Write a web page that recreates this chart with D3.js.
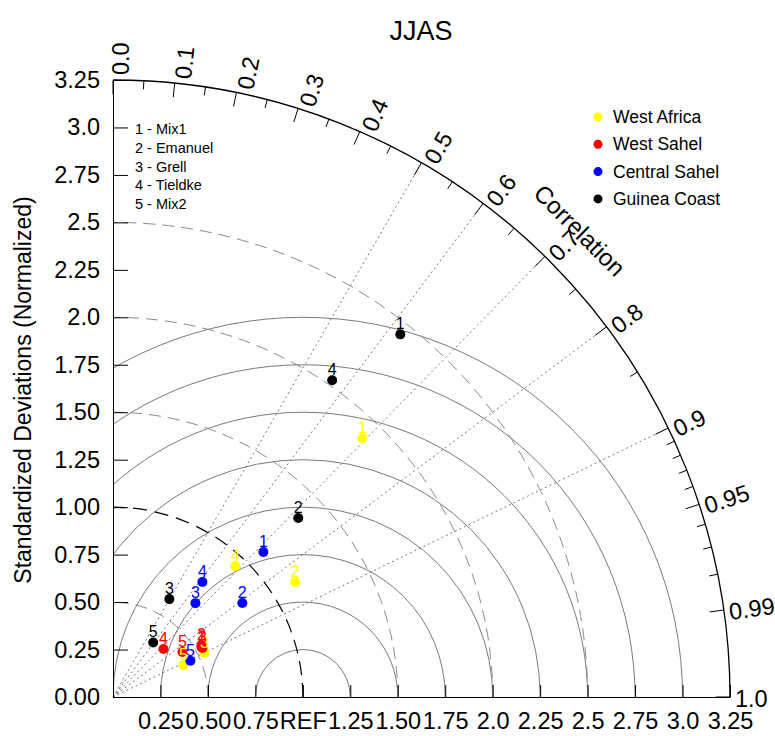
<!DOCTYPE html>
<html>
<head>
<meta charset="utf-8">
<script src="https://cdn.jsdelivr.net/npm/d3@7"></script>
<style>
body { margin: 0; background: #fff; }
text { font-family: "Liberation Sans", Arial, Helvetica, sans-serif; fill: #000; }
</style>
</head>
<body>
<div id="chart-container"></div>
<script>
// cases (regions) and models
const regions = ["West Africa", "West Sahel", "Central Sahel", "Guinea Coast"];
const regionColors = ["#ffff00", "#ff0000", "#0000ff", "#000000"];
const models = ["Mix1", "Emanuel", "Grell", "Tieldke", "Mix2"];

// normalized standard deviation and correlation, models 1..5
const westAfricaStd = [1.893, 1.135, 0.535, 0.944, 0.407];
const westAfricaCor = [0.694, 0.846, 0.901, 0.683, 0.911];
const westSahelStd = [0.535, 0.540, 0.537, 0.367, 0.436];
const westSahelCor = [0.871, 0.862, 0.877, 0.725, 0.839];
const centralSahelStd = [1.100, 0.842, 0.658, 0.767, 0.450];
const centralSahelCor = [0.720, 0.809, 0.660, 0.614, 0.906];
const guineaCoastStd = [2.437, 1.357, 0.595, 2.029, 0.357];
const guineaCoastCor = [0.621, 0.719, 0.499, 0.569, 0.593];

// axis ticks
const stdTicks = [0, 0.25, 0.5, 0.75, 1.0, 1.25, 1.5, 1.75, 2.0, 2.25, 2.5, 2.75, 3.0, 3.25];
const yTickLabels = ["0.00", "0.25", "0.50", "0.75", "1.00", "1.25", "1.50", "1.75", "2.0", "2.25", "2.5", "2.75", "3.0", "3.25"];
const xTickLabels = ["", "0.25", "0.50", "0.75", "REF", "1.25", "1.50", "1.75", "2.0", "2.25", "2.5", "2.75", "3.0", "3.25"];
const corrMajor = [0, 0.1, 0.2, 0.3, 0.4, 0.5, 0.6, 0.7, 0.8, 0.9, 0.95, 0.99, 1.0];
const corrLabels = ["0.0", "0.1", "0.2", "0.3", "0.4", "0.5", "0.6", "0.7", "0.8", "0.9", "0.95", "0.99", "1.0"];
const corrMinor = [0.05, 0.15, 0.25, 0.35, 0.45, 0.55, 0.65, 0.75, 0.85, 0.91, 0.92, 0.93, 0.94, 0.96, 0.97, 0.98];
const corrRays = [0.5, 0.6, 0.7, 0.8, 0.9];
const rmsCircles = [0.25, 0.5, 0.75, 1.0, 1.25, 1.5, 1.75, 2.0];
const stdCircles = [0.5, 1.5, 2.0, 2.5];

const width = 775, height = 736;
const origin = {x: 113, y: 697};
const R = 617;
const maxStd = 3.25;

const r = d3.scaleLinear().domain([0, maxStd]).range([0, R]);
const yScale = d3.scaleLinear().domain([0, maxStd]).range([0, -R]);

function pos(s, c) {
    const a = Math.acos(c);
    return [r(s) * Math.cos(a), -r(s) * Math.sin(a)];
}

const svg = d3.select("#chart-container")
    .append("svg")
        .attr("width", width)
        .attr("height", height);

const g = svg.append("g")
    .attr("transform", `translate(${origin.x},${origin.y})`);

// clip to the quarter disc
g.append("clipPath").attr("id", "quad")
    .append("path")
    .attr("d", `M0,0 L${R},0 A${R},${R} 0 0 0 0,${-R} Z`);

// centred RMS circles around REF
g.append("g").attr("clip-path", "url(#quad)")
    .selectAll("circle")
    .data(rmsCircles)
    .join("circle")
        .attr("cx", r(1))
        .attr("cy", 0)
        .attr("r", d => r(d))
        .attr("fill", "none")
        .attr("stroke", "#7a7a7a")
        .attr("stroke-width", 1);

// dashed std circles
g.selectAll(".std-arc")
    .data(stdCircles)
    .join("path")
        .attr("class", "std-arc")
        .attr("d", d => `M${r(d)},0 A${r(d)},${r(d)} 0 0 0 0,${-r(d)}`)
        .attr("fill", "none")
        .attr("stroke", "#8a8a8a")
        .attr("stroke-width", 1)
        .attr("stroke-dasharray", "12 7");

// reference arc
g.append("path")
    .attr("d", `M${r(1)},0 A${r(1)},${r(1)} 0 0 0 0,${-r(1)}`)
    .attr("fill", "none")
    .attr("stroke", "#000")
    .attr("stroke-width", 1.2)
    .attr("stroke-dasharray", "14 8");

// correlation rays
g.selectAll(".ray")
    .data(corrRays)
    .join("line")
        .attr("class", "ray")
        .attr("x1", 0).attr("y1", 0)
        .attr("x2", d => pos(maxStd, d)[0])
        .attr("y2", d => pos(maxStd, d)[1])
        .attr("stroke", "#777")
        .attr("stroke-width", 1)
        .attr("stroke-dasharray", "2 3");

// outer arc
g.append("path")
    .attr("d", `M${R},0 A${R},${R} 0 0 0 0,${-R}`)
    .attr("fill", "none")
    .attr("stroke", "#000")
    .attr("stroke-width", 1.3);

// correlation ticks
g.selectAll(".cmaj")
    .data(corrMajor)
    .join("line")
        .attr("class", "cmaj")
        .attr("x1", d => pos(maxStd, d)[0])
        .attr("y1", d => pos(maxStd, d)[1])
        .attr("x2", d => pos(maxStd - 0.075, d)[0])
        .attr("y2", d => pos(maxStd - 0.075, d)[1])
        .attr("stroke", "#000");

g.selectAll(".cmin")
    .data(corrMinor)
    .join("line")
        .attr("class", "cmin")
        .attr("x1", d => pos(maxStd, d)[0])
        .attr("y1", d => pos(maxStd, d)[1])
        .attr("x2", d => pos(maxStd - 0.045, d)[0])
        .attr("y2", d => pos(maxStd - 0.045, d)[1])
        .attr("stroke", "#000");

// correlation labels
g.selectAll(".clab")
    .data(corrMajor)
    .join("text")
        .attr("class", "clab")
        .attr("transform", d => {
            const a = Math.acos(d);
            const off = 2 + 6 * Math.sin(a);
            const x = (R + 5) * Math.cos(a) + off * Math.sin(a);
            const y = -(R + 5) * Math.sin(a) + off * Math.cos(a);
            return `translate(${x},${y}) rotate(${-a * 180 / Math.PI})`;
        })
        .attr("dominant-baseline", "central")
        .style("font-size", "23.5px")
        .text((d, i) => corrLabels[i]);

g.append("text")
    .attr("transform", `translate(${(R + 43) * Math.cos(Math.PI / 4)},${-(R + 43) * Math.sin(Math.PI / 4)}) rotate(45)`)
    .attr("text-anchor", "middle")
    .attr("dominant-baseline", "central")
    .style("font-size", "24px")
    .text("Correlation");

// std axes
g.append("g")
    .attr("class", "y-axis")
    .call(d3.axisLeft(yScale)
        .tickValues(stdTicks)
        .tickFormat((d, i) => yTickLabels[i])
        .tickSizeInner(-15)
        .tickSizeOuter(0)
        .tickPadding(13))
    .call(a => a.selectAll("text").style("font-size", "23.5px").attr("fill", "#000"))
    .call(a => a.selectAll("line,path").attr("stroke", "#000"));

g.append("g")
    .attr("class", "x-axis")
    .call(d3.axisBottom(r)
        .tickValues(stdTicks)
        .tickFormat((d, i) => xTickLabels[i])
        .tickSizeInner(-12)
        .tickSizeOuter(0)
        .tickPadding(15))
    .call(a => a.selectAll("text").style("font-size", "23.5px").attr("fill", "#000"))
    .call(a => a.selectAll("line,path").attr("stroke", "#000"));

// data points
const allStd = [westAfricaStd, westSahelStd, centralSahelStd, guineaCoastStd];
const allCor = [westAfricaCor, westSahelCor, centralSahelCor, guineaCoastCor];
const points = [];
regions.forEach((reg, i) => {
    models.forEach((m, j) => {
        points.push({region: i, model: j, std: allStd[i][j], cor: allCor[i][j]});
    });
});

const pg = g.append("g").attr("class", "points");
pg.selectAll("circle")
    .data(points)
    .join("circle")
        .attr("cx", d => pos(d.std, d.cor)[0])
        .attr("cy", d => pos(d.std, d.cor)[1])
        .attr("r", 5)
        .attr("fill", d => regionColors[d.region]);

pg.selectAll("text")
    .data(points)
    .join("text")
        .attr("x", d => pos(d.std, d.cor)[0])
        .attr("y", d => pos(d.std, d.cor)[1] - 5)
        .attr("text-anchor", "middle")
        .style("font-size", "16px")
        .style("fill", d => regionColors[d.region])
        .text(d => d.model + 1);

// title and y label
svg.append("text")
    .attr("x", 421)
    .attr("y", 40)
    .attr("text-anchor", "middle")
    .style("font-size", "27px")
    .text("JJAS");

svg.append("text")
    .attr("transform", "translate(23,390) rotate(-90)")
    .attr("text-anchor", "middle")
    .attr("dominant-baseline", "central")
    .style("font-size", "23px")
    .text("Standardized Deviations (Normalized)");

// model list
svg.selectAll(".model")
    .data(models)
    .join("text")
        .attr("class", "model")
        .attr("x", 135)
        .attr("y", (d, i) => 134 + i * 18.8)
        .style("font-size", "14.5px")
        .text((d, i) => `${i + 1} - ${d}`);

// legend
const legend = svg.append("g").attr("class", "legend");
legend.selectAll("circle")
    .data(regions)
    .join("circle")
        .attr("cx", 598)
        .attr("cy", (d, i) => 117 + i * 27.3)
        .attr("r", 4.5)
        .attr("fill", (d, i) => regionColors[i]);
legend.selectAll("text")
    .data(regions)
    .join("text")
        .attr("x", 613)
        .attr("y", (d, i) => 117 + i * 27.3)
        .attr("dominant-baseline", "central")
        .style("font-size", "17.5px")
        .text(d => d);
</script>
</body>
</html>
